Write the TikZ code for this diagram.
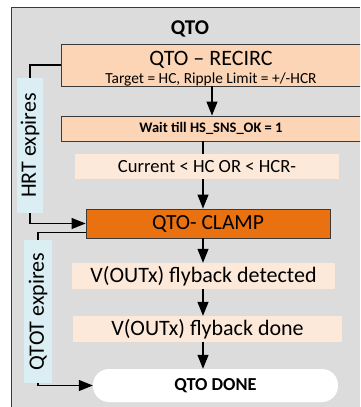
\documentclass[tikz,border=0pt]{standalone}
\usepackage{fontspec}
\setmainfont{Carlito}
\usetikzlibrary{arrows.meta,positioning}
\definecolor{panel}{HTML}{DCDCDC}
\definecolor{frameline}{HTML}{3A3A3A}
\definecolor{peach}{HTML}{FBD5B5}
\definecolor{pale}{HTML}{FDE9D9}
\definecolor{clampfill}{HTML}{E9710F}
\definecolor{iceblue}{HTML}{DAEEF3}

\begin{document}
\begin{tikzpicture}
[x=1pt,y=-1pt,>={Triangle[length=14pt,width=11pt]},
                    box/.style={draw=frameline,line width=0.9pt,fill=peach,minimum width=300pt,inner sep=0pt},
                    cond/.style={fill=pale,inner sep=0pt,minimum height=26pt,font=\fontsize{22}{26}\selectfont},
                    timer/.style={fill=iceblue,rotate=90,inner sep=0pt,font=\fontsize{22}{26}\selectfont},
                    flow/.style={line width=1.1pt}]

  \useasboundingbox (0,0) rectangle (360,407);
  \clip (0,0) rectangle (360,407);
  \fill[panel] (11,7) rectangle (360,407);
  \draw[frameline] (11,407) |- (360,7);

  \coordinate (col) at (203,0);
  \coordinate (topcol) at (212,0);

  \node[anchor=base,font=\bfseries\fontsize{21}{25}\selectfont] (title) at (190,34) {QTO};
  \node[box,minimum height=42pt] (recirc) at (211,65) {};
  \node[anchor=base,font=\fontsize{22}{26}\selectfont] (recirc-name) at (211,65) {QTO \textendash{} RECIRC};
  \node[anchor=base,font=\fontsize{15.4}{18}\selectfont] (recirc-info) at (211,83.3) {Target = HC, Ripple Limit = +/-HCR};
  \node[box,minimum height=25pt,font=\bfseries\fontsize{14.5}{17}\selectfont] (wait) at (211,128.5) {Wait till HS\_SNS\_OK = 1};
  \node[box,fill=clampfill,minimum width=244pt,minimum height=29pt,font=\fontsize{21.5}{25}\selectfont] (clamp) at (208,223.5) {QTO- CLAMP};

  \draw[flow,->] (recirc.south -| topcol) -- (wait.north -| topcol);
  \draw[flow,->] (wait.south -| col) -- (clamp.north -| col);

  \node[cond,minimum width=264pt,minimum height=25pt,font=\fontsize{18.6}{22}\selectfont] (cur) at (207,166.5) {Current < HC OR < HCR-};
  \node[cond,minimum width=263pt] (det) at (203.5,276) {V(OUTx) flyback detected};
  \node[cond,minimum width=269pt] (fly) at (207.5,329) {V(OUTx) flyback done};
  \node[fill=white,rounded corners=16pt,minimum width=245pt,minimum height=33pt,inner sep=0pt,
        font=\bfseries\fontsize{18.3}{22}\selectfont] (end) at (215.5,385.5) {QTO DONE};

  \draw[flow,->] (clamp.south -| col) -- (det.north -| col);
  \draw[flow,->] (det.south -| col) -- (fly.north -| col);
  \draw[flow,->] (fly.south -| col) -- (end.north -| col);

  % timer branches on the left
  \node[timer,minimum width=135pt,minimum height=26pt] (hrt) at (30,145.5) {HRT expires};
  \node[timer,minimum width=143pt,minimum height=28pt] (qtot) at (38,311.5) {QTOT expires};

  \draw[flow] (recirc.west) -| (hrt.east);
  \draw[flow,->] (hrt.west) |- (clamp.west);
  \draw[flow] ([yshift=6pt]clamp.south west) -| (qtot.east);
  \draw[flow,->] (qtot.west) |- (end.west);
\end{tikzpicture}
\end{document}
